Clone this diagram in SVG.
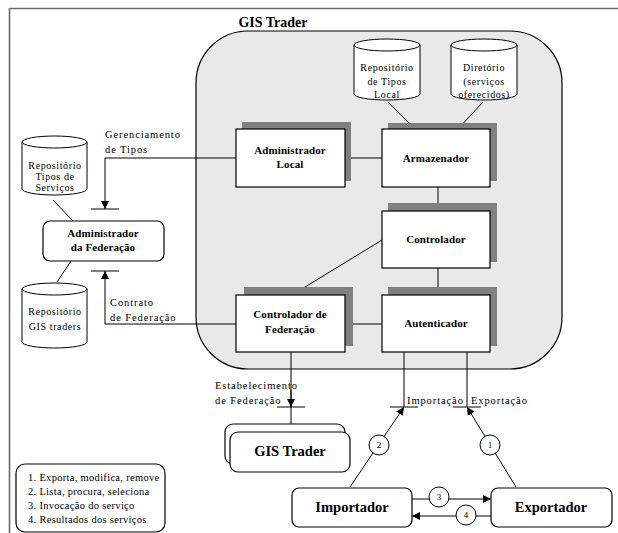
<svg xmlns="http://www.w3.org/2000/svg" width="618" height="533" viewBox="0 0 618 533" font-family="'Liberation Serif', 'DejaVu Serif', serif">
<style>
  text { font-family: 'Liberation Serif', 'DejaVu Serif', serif; }
  .ln { stroke: #000; stroke-width: 1; fill: none; }
  .box { fill: #fff; stroke: #000; stroke-width: 1.2; }
  .sh { fill: #808080; }
  .cyl { fill: #fff; stroke: #000; stroke-width: 1; }
  .lbl { font-size: 11px; font-weight: bold; text-anchor: middle; letter-spacing: 0.1px; }
  .big { font-size: 14.5px; font-weight: bold; text-anchor: middle; }
  .txt { font-size: 10.5px; letter-spacing: 0.9px; }
  .ctxt { font-size: 10px; letter-spacing: 0.6px; text-anchor: middle; }
  .leg { font-size: 10.5px; letter-spacing: 0.3px; }
  .num { font-size: 9px; text-anchor: middle; }
</style>
<defs>
  <marker id="ah" viewBox="0 0 10 10" refX="10" refY="5" markerWidth="8" markerHeight="8" markerUnits="userSpaceOnUse" orient="auto">
    <path d="M0,0 L10,5 L0,10 Z" fill="#000"/>
  </marker>
</defs>
<rect width="618" height="533" fill="#fff"/>
<path d="M9.5,533 L9.5,8.5 L618,8.5" fill="none" stroke="#6a6a6a" stroke-width="1.6"/>

<g id="gis-trader-container">
  <rect x="196" y="31" width="366" height="338" rx="52" ry="52" fill="#e9e9e9" stroke="#000" stroke-width="1.2"/>
  <text x="273" y="27" class="big" style="font-size:14px">GIS Trader</text>
</g>

<g id="connectors">
  <line class="ln" x1="388" y1="102" x2="415" y2="129"/>
  <line class="ln" x1="483" y1="102" x2="458" y2="129"/>
  <line class="ln" x1="345" y1="158" x2="382" y2="158"/>
  <line class="ln" x1="438" y1="187" x2="438" y2="211"/>
  <line class="ln" x1="438" y1="268" x2="438" y2="295"/>
  <line class="ln" x1="382" y1="240" x2="292" y2="295"/>
  <line class="ln" x1="345" y1="324" x2="382" y2="324"/>
  <path class="ln" d="M236,158 L105,158 L105,209" marker-end="url(#ah)"/>
  <line class="ln" x1="91" y1="209" x2="119" y2="209"/>
  <path class="ln" d="M236,324 L105,324 L105,271" marker-end="url(#ah)"/>
  <line class="ln" x1="91" y1="271" x2="119" y2="271"/>
  <line class="ln" x1="53" y1="200" x2="73" y2="221"/>
  <line class="ln" x1="71" y1="261" x2="57" y2="282"/>
  <line class="ln" x1="291" y1="352" x2="291" y2="425"/>
  <line class="ln" x1="291" y1="390" x2="291" y2="407" marker-end="url(#ah)"/>
  <line class="ln" x1="277" y1="407" x2="305" y2="407"/>
  <line class="ln" x1="404" y1="352" x2="404" y2="407"/>
  <line class="ln" x1="390" y1="407" x2="418" y2="407"/>
  <line class="ln" x1="350" y1="487" x2="404" y2="407" marker-end="url(#ah)"/>
  <line class="ln" x1="467" y1="352" x2="467" y2="407"/>
  <line class="ln" x1="453" y1="407" x2="481" y2="407"/>
  <line class="ln" x1="516" y1="487" x2="467" y2="407" marker-end="url(#ah)"/>
  <line class="ln" x1="412" y1="499" x2="491" y2="499" marker-end="url(#ah)"/>
  <line class="ln" x1="491" y1="516" x2="412" y2="516" marker-end="url(#ah)"/>
  <text class="txt" x="105" y="138">Gerenciamento</text>
  <text class="txt" x="105" y="153">de Tipos</text>
  <text class="txt" x="110" y="306">Contrato</text>
  <text class="txt" x="110" y="321">de Federação</text>
  <text class="txt" x="215" y="389">Estabelecimento</text>
  <text class="txt" x="215" y="404">de Federação</text>
  <text class="txt" x="407" y="404">Importação</text>
  <text class="txt" x="471" y="404">Exportação</text>
  <g>
    <circle cx="379" cy="445" r="10" fill="#fff" stroke="#000"/>
    <text class="num" x="379" y="448">2</text>
    <circle cx="490" cy="445" r="10" fill="#fff" stroke="#000"/>
    <text class="num" x="490" y="448">1</text>
    <circle cx="439" cy="497" r="10" fill="#fff" stroke="#000"/>
    <text class="num" x="439" y="500">3</text>
    <circle cx="466" cy="515" r="10" fill="#fff" stroke="#000"/>
    <text class="num" x="466" y="518">4</text>
  </g>
</g>

<g id="administrador-local">
  <rect class="sh" x="242" y="122" width="109" height="59"/>
  <rect class="box" x="236" y="129" width="109" height="58"/>
  <text class="lbl" x="290" y="154">Administrador</text>
  <text class="lbl" x="290" y="168">Local</text>
</g>
<g id="armazenador">
  <rect class="sh" x="388" y="123" width="109" height="58"/>
  <rect class="box" x="382" y="129" width="108" height="58"/>
  <text class="lbl" x="436" y="162">Armazenador</text>
</g>
<g id="controlador">
  <rect class="sh" x="388" y="203" width="109" height="59"/>
  <rect class="box" x="382" y="211" width="108" height="57"/>
  <text class="lbl" x="436" y="243">Controlador</text>
</g>
<g id="autenticador">
  <rect class="sh" x="388" y="287" width="109" height="59"/>
  <rect class="box" x="382" y="295" width="108" height="57"/>
  <text class="lbl" x="436" y="327">Autenticador</text>
</g>
<g id="controlador-de-federacao">
  <rect class="sh" x="244" y="287" width="109" height="59"/>
  <rect class="box" x="236" y="295" width="109" height="57"/>
  <text class="lbl" x="290" y="318">Controlador de</text>
  <text class="lbl" x="290" y="333">Federação</text>
</g>

<g id="repositorio-tipos-local">
  <path class="cyl" d="M354,45 L354,94 A33,6 0 0,0 420,94 L420,45"/>
  <ellipse class="cyl" cx="387" cy="45" rx="33" ry="6"/>
  <text class="ctxt" x="387" y="71">Repositório</text>
  <text class="ctxt" x="387" y="85">de Tipos</text>
  <text class="ctxt" x="387" y="98">Local</text>
</g>
<g id="diretorio">
  <path class="cyl" d="M451,45 L451,94 A33,6 0 0,0 517,94 L517,45"/>
  <ellipse class="cyl" cx="484" cy="45" rx="33" ry="6"/>
  <text class="ctxt" x="484" y="71">Diretório</text>
  <text class="ctxt" x="484" y="85">(serviços</text>
  <text class="ctxt" x="484" y="98">oferecidos)</text>
</g>
<g id="repositorio-tipos-servicos">
  <path class="cyl" d="M22,142 L22,189 A32.5,6 0 0,0 87,189 L87,142"/>
  <ellipse class="cyl" cx="54.5" cy="142" rx="32.5" ry="6"/>
  <text class="ctxt" x="55" y="169">Repositório</text>
  <text class="ctxt" x="55" y="180">Tipos de</text>
  <text class="ctxt" x="55" y="191">Serviços</text>
</g>
<g id="repositorio-gis-traders">
  <path class="cyl" d="M22,289 L22,342 A32.5,6 0 0,0 87,342 L87,289"/>
  <ellipse class="cyl" cx="54.5" cy="289" rx="32.5" ry="6"/>
  <text class="ctxt" x="55" y="315">Repositório</text>
  <text class="ctxt" x="55" y="330">GIS traders</text>
</g>

<g id="administrador-da-federacao">
  <rect class="box" x="43" y="221" width="121" height="40" rx="7" ry="7"/>
  <text class="lbl" x="103" y="237">Administrador</text>
  <text class="lbl" x="103" y="251">da Federação</text>
</g>

<g id="gis-trader-federado">
  <rect class="box" x="225" y="424" width="120" height="40" rx="8" ry="8"/>
  <rect class="box" x="230" y="432" width="120" height="40" rx="8" ry="8"/>
  <text class="big" x="290" y="456">GIS Trader</text>
</g>

<g id="importador">
  <rect class="box" x="292" y="488" width="120" height="39" rx="7" ry="7"/>
  <text class="big" x="352" y="512">Importador</text>
</g>
<g id="exportador">
  <rect class="box" x="491" y="488" width="121" height="39" rx="7" ry="7"/>
  <text class="big" x="551" y="512">Exportador</text>
</g>

<g id="legenda">
  <rect class="box" x="16" y="464" width="149" height="68" rx="9" ry="9"/>
  <text class="leg" x="28" y="481">1. Exporta, modifica, remove</text>
  <text class="leg" x="28" y="495">2. Lista, procura, seleciona</text>
  <text class="leg" x="28" y="509">3. Invocação do serviço</text>
  <text class="leg" x="28" y="523">4. Resultados dos serviços</text>
</g>
</svg>
